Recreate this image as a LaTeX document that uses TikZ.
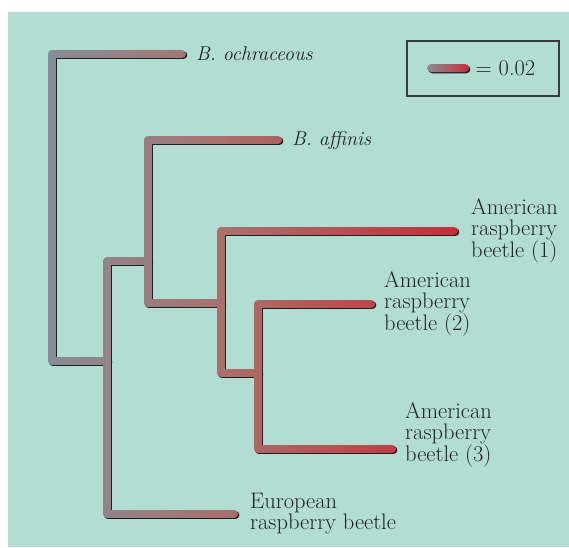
\documentclass[tikz,border=0pt]{standalone}
\usepackage{xcolor}
\usepackage{tikz}
\usetikzlibrary{positioning, calc}

\definecolor{bggreen}{HTML}{B2DDD3}
\definecolor{treegrey}{HTML}{878D96}
\definecolor{treemid}{HTML}{A8716D}
\definecolor{treered}{HTML}{C92D3A}
\definecolor{shadowgrey}{HTML}{1E1E1E}
\definecolor{boxgrey}{HTML}{3A3A3A}
\definecolor{labelgrey}{HTML}{222222}

% the branches of the tree, from named points
\newcommand{\treepath}{(tOch) -| (nRoot) |- (n1)
  (n2) -| (n1) |- (tEur)
  (tAff) -| (n2) |- (n3)
  (tAm1) -| (n3) |- (n4)
  (tAm2) -| (n4) |- (tAm3)}

\begin{document}
\begin{tikzpicture}[
  x=1pt, y=-1pt,
  font=\fontsize{22.5}{21}\selectfont,
  branch/.style={line width=8pt, line cap=round, line join=round},
  taxon/.style={anchor=west, inner sep=0pt, align=left, text=labelgrey},
  species/.style={taxon, font=\fontsize{20}{21}\selectfont\itshape},
  node distance=14pt,
]
  \useasboundingbox (0,0) rectangle (569,547);
  \fill[bggreen] (8,12) rectangle (569,547);

  % inner nodes
  \coordinate (nRoot) at (52,207);
  \coordinate (n1) at (107,361);
  \coordinate (n2) at (148,261);
  \coordinate (n3) at (221,303);
  \coordinate (n4) at (258,373);
  % tips
  \coordinate (tOch) at (182,54);
  \coordinate (tAff) at (278,140);
  \coordinate (tAm1) at (454,231);
  \coordinate (tAm2) at (371,304);
  \coordinate (tAm3) at (392,449);
  \coordinate (tEur) at (234,514);

  \draw[branch, shadowgrey, transform canvas={xshift=1.3pt, yshift=-1.3pt}] \treepath;

  % colour runs from grey to red along x
  \foreach \i in {0,...,208} {
    \pgfmathsetmacro\xs{44+2*\i}
    \pgfmathsetmacro\pc{max(0,min(100,(\xs+1-52)/169*100))}
    \pgfmathsetmacro\pr{max(0,min(100,(\xs+1-221)/234*100))}
    \colorlet{slicea}{treemid!\pc!treegrey}
    \colorlet{sliceb}{treered!\pr!slicea}
    \begin{scope}
      \clip (\xs,30) rectangle ++(2.4,500);
      \draw[branch, sliceb] \treepath;
    \end{scope}
  }

  \node[species, right=of tOch] (och) {B. ochraceous};
  \node[species, right=of tAff] (aff) {B. affinis};
  \node[taxon, right=17pt of tAm1] (am1) {American\\raspberry\\beetle (1)};
  \node[taxon, right=13pt of tAm2] (am2) {American\\raspberry\\beetle (2)};
  \node[taxon, right=13pt of tAm3, yshift=14pt] (am3) {American\\raspberry\\beetle (3)};
  \node[taxon, right=16pt of tEur] (eur) {European\\raspberry beetle};

  % scale bar
  \node[draw=boxgrey, line width=1.4pt, minimum width=152pt, minimum height=55pt,
    inner sep=0pt] (legend) at (483,68.5) {};
  \coordinate (barL) at (431,68);
  \coordinate (barR) at (465,68);
  \fill[shadowgrey, rounded corners=4pt, transform canvas={xshift=1.3pt, yshift=-1.3pt}]
    ($(barL)+(-4,-4)$) rectangle ($(barR)+(4,4)$);
  \shade[left color=treegrey, right color=treered, rounded corners=4pt]
    ($(barL)+(-4,-4)$) rectangle ($(barR)+(4,4)$);
  \node[anchor=base west, inner sep=0pt, text=labelgrey] (scaleval) at (475.5,75) {= 0.02};
\end{tikzpicture}
\end{document}
